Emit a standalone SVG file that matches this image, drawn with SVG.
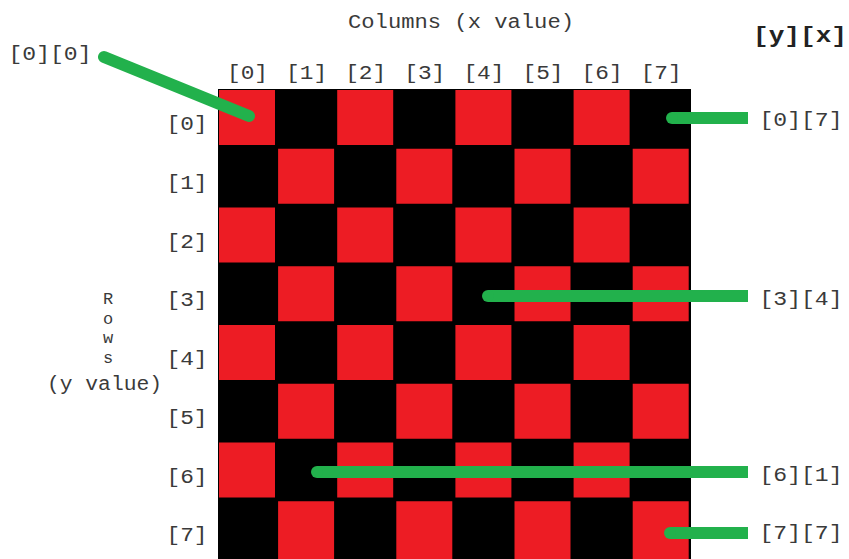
<svg xmlns="http://www.w3.org/2000/svg" width="849" height="559" viewBox="0 0 849 559">
<style>
.t{font-family:"Liberation Mono","Courier New",monospace;font-size:20px;fill:#3a3a3a;text-anchor:middle}
.s{font-size:17px}
.b{font-weight:bold;font-size:22px;fill:#222}
.red{fill:#ED1C24}
.con{stroke:#22B14C;stroke-width:12;fill:none}
</style>
<defs>
<marker id="dot" viewBox="-1 -1 2 2" markerWidth="1" markerHeight="1" markerUnits="strokeWidth" refX="0" refY="0"><circle r="1" fill="#22B14C"/></marker>
</defs>
<rect width="849" height="559" fill="#fff"/>
<g id="title"><text class="t" x="461" y="28" textLength="226" lengthAdjust="spacingAndGlyphs">Columns (x value)</text></g>
<g id="yx"><text class="t b" x="800" y="42" textLength="94" lengthAdjust="spacingAndGlyphs">[y][x]</text></g>
<g id="col-labels">
<text class="t" x="247.5" y="79" textLength="41" lengthAdjust="spacingAndGlyphs">[0]</text>
<text class="t" x="306.6" y="79" textLength="41" lengthAdjust="spacingAndGlyphs">[1]</text>
<text class="t" x="365.7" y="79" textLength="41" lengthAdjust="spacingAndGlyphs">[2]</text>
<text class="t" x="424.8" y="79" textLength="41" lengthAdjust="spacingAndGlyphs">[3]</text>
<text class="t" x="483.9" y="79" textLength="41" lengthAdjust="spacingAndGlyphs">[4]</text>
<text class="t" x="543" y="79" textLength="41" lengthAdjust="spacingAndGlyphs">[5]</text>
<text class="t" x="602.1" y="79" textLength="41" lengthAdjust="spacingAndGlyphs">[6]</text>
<text class="t" x="661.2" y="79" textLength="41" lengthAdjust="spacingAndGlyphs">[7]</text>
</g>
<g id="row-labels">
<text class="t" x="187" y="130" textLength="41" lengthAdjust="spacingAndGlyphs">[0]</text>
<text class="t" x="187" y="188.75" textLength="41" lengthAdjust="spacingAndGlyphs">[1]</text>
<text class="t" x="187" y="247.5" textLength="41" lengthAdjust="spacingAndGlyphs">[2]</text>
<text class="t" x="187" y="306.25" textLength="41" lengthAdjust="spacingAndGlyphs">[3]</text>
<text class="t" x="187" y="365" textLength="41" lengthAdjust="spacingAndGlyphs">[4]</text>
<text class="t" x="187" y="423.75" textLength="41" lengthAdjust="spacingAndGlyphs">[5]</text>
<text class="t" x="187" y="482.5" textLength="41" lengthAdjust="spacingAndGlyphs">[6]</text>
<text class="t" x="187" y="541.25" textLength="41" lengthAdjust="spacingAndGlyphs">[7]</text>
</g>
<g id="rows-label">
<text class="t s" x="108" y="304">R</text>
<text class="t s" x="108" y="323.5">o</text>
<text class="t s" x="108" y="343">w</text>
<text class="t s" x="108" y="362.5">s</text>
<text class="t" x="104.5" y="390" textLength="115" lengthAdjust="spacingAndGlyphs">(y value)</text>
</g>
<g id="board">
<rect x="218" y="89" width="473" height="470" fill="#000"/>
<rect class="red" x="219" y="90" width="56" height="55"/>
<rect class="red" x="337.2" y="90" width="56" height="55"/>
<rect class="red" x="455.4" y="90" width="56" height="55"/>
<rect class="red" x="573.6" y="90" width="56" height="55"/>
<rect class="red" x="278.1" y="148.75" width="56" height="55"/>
<rect class="red" x="396.3" y="148.75" width="56" height="55"/>
<rect class="red" x="514.5" y="148.75" width="56" height="55"/>
<rect class="red" x="632.7" y="148.75" width="56" height="55"/>
<rect class="red" x="219" y="207.5" width="56" height="55"/>
<rect class="red" x="337.2" y="207.5" width="56" height="55"/>
<rect class="red" x="455.4" y="207.5" width="56" height="55"/>
<rect class="red" x="573.6" y="207.5" width="56" height="55"/>
<rect class="red" x="278.1" y="266.25" width="56" height="55"/>
<rect class="red" x="396.3" y="266.25" width="56" height="55"/>
<rect class="red" x="514.5" y="266.25" width="56" height="55"/>
<rect class="red" x="632.7" y="266.25" width="56" height="55"/>
<rect class="red" x="219" y="325" width="56" height="55"/>
<rect class="red" x="337.2" y="325" width="56" height="55"/>
<rect class="red" x="455.4" y="325" width="56" height="55"/>
<rect class="red" x="573.6" y="325" width="56" height="55"/>
<rect class="red" x="278.1" y="383.75" width="56" height="55"/>
<rect class="red" x="396.3" y="383.75" width="56" height="55"/>
<rect class="red" x="514.5" y="383.75" width="56" height="55"/>
<rect class="red" x="632.7" y="383.75" width="56" height="55"/>
<rect class="red" x="219" y="442.5" width="56" height="55"/>
<rect class="red" x="337.2" y="442.5" width="56" height="55"/>
<rect class="red" x="455.4" y="442.5" width="56" height="55"/>
<rect class="red" x="573.6" y="442.5" width="56" height="55"/>
<rect class="red" x="278.1" y="501.25" width="56" height="58"/>
<rect class="red" x="396.3" y="501.25" width="56" height="58"/>
<rect class="red" x="514.5" y="501.25" width="56" height="58"/>
<rect class="red" x="632.7" y="501.25" width="56" height="58"/>
</g>
<g id="connectors">
<line class="con" x1="104" y1="57" x2="249" y2="116" stroke-linecap="round"/>
<line class="con" x1="672" y1="118" x2="748" y2="118" marker-start="url(#dot)"/>
<line class="con" x1="488" y1="296" x2="748" y2="296" marker-start="url(#dot)"/>
<line class="con" x1="317" y1="472" x2="748" y2="472" marker-start="url(#dot)"/>
<line class="con" x1="670" y1="533" x2="748" y2="533" marker-start="url(#dot)"/>
</g>
<g id="lbl-00"><text class="t" x="50" y="60" textLength="83" lengthAdjust="spacingAndGlyphs">[0][0]</text></g>
<g id="lbl-07"><text class="t" x="801" y="126" textLength="83" lengthAdjust="spacingAndGlyphs">[0][7]</text></g>
<g id="lbl-34"><text class="t" x="801" y="305" textLength="83" lengthAdjust="spacingAndGlyphs">[3][4]</text></g>
<g id="lbl-61"><text class="t" x="801" y="481" textLength="83" lengthAdjust="spacingAndGlyphs">[6][1]</text></g>
<g id="lbl-77"><text class="t" x="801" y="539" textLength="83" lengthAdjust="spacingAndGlyphs">[7][7]</text></g>
</svg>
